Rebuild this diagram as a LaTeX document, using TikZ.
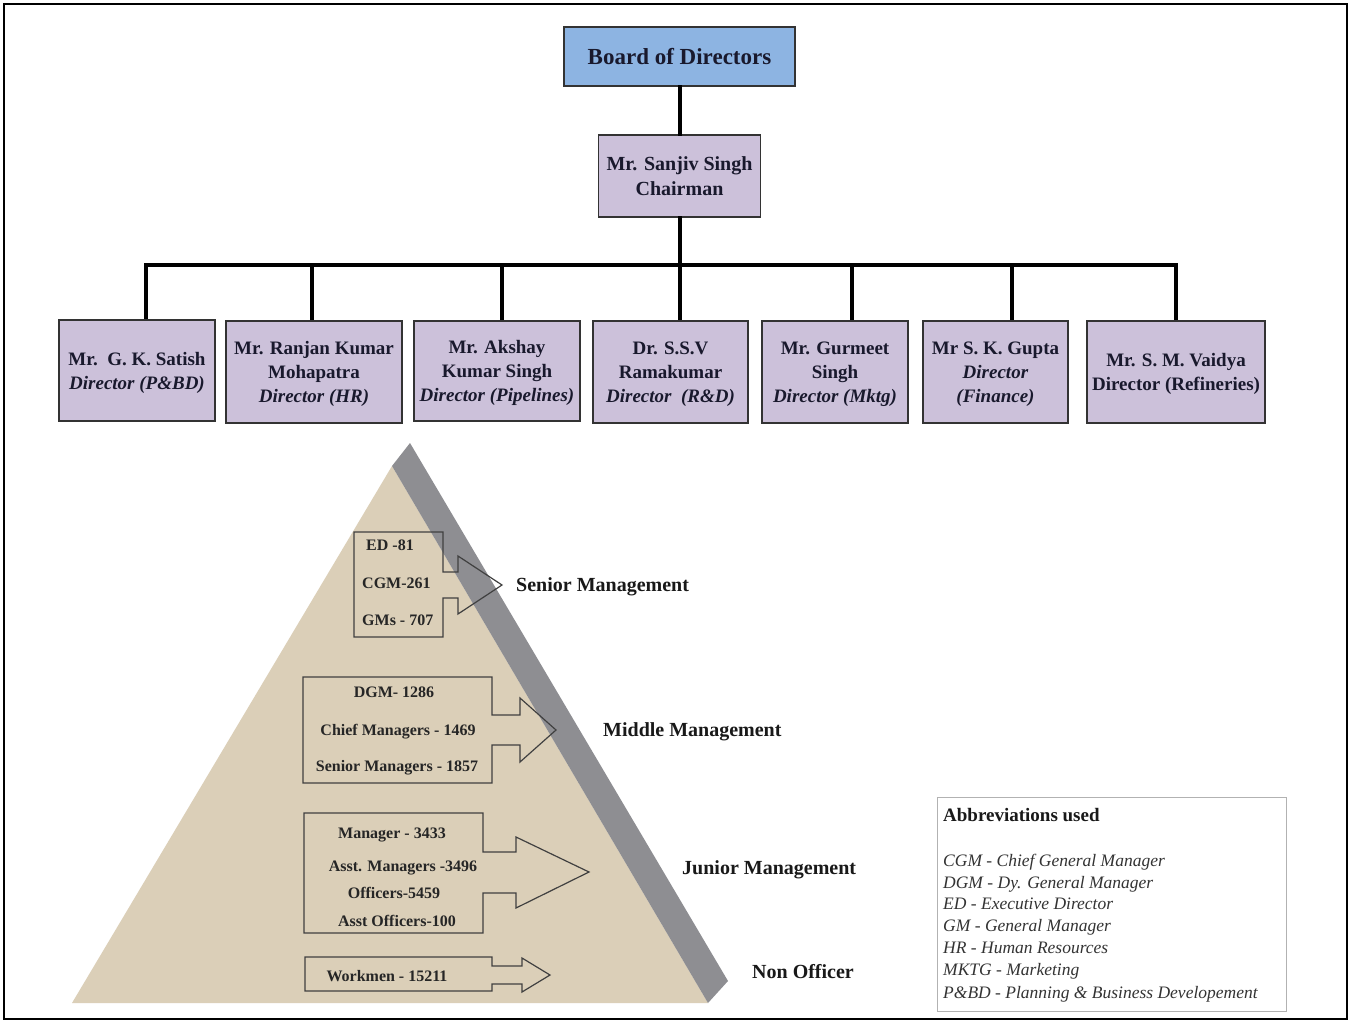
\documentclass[tikz,border=0pt]{standalone}
\usepackage{fontspec}
\setmainfont{Liberation Serif}
\definecolor{boardblue}{RGB}{141,180,226}
\definecolor{lav}{RGB}{204,193,218}
\definecolor{txt}{RGB}{25,25,45}
\definecolor{tanfill}{RGB}{219,207,184}
\definecolor{bandgray}{RGB}{142,142,146}
\begin{document}
\begin{tikzpicture}[x=1pt,y=-1pt,
  orgbox/.style={draw=black!80, line width=1.5pt, fill=lav, text=txt, align=center, inner sep=0pt, text depth=-1.5pt, font=\fontsize{19}{24}\selectfont\bfseries},
  wire/.style={line width=4pt, black, line cap=rect},
  lvl/.style={font=\fontsize{16}{19}\selectfont\bfseries, text=black!85, inner sep=0pt, text height=11pt, text depth=3.5pt},
  lvlname/.style={font=\fontsize{20}{23}\selectfont\bfseries, text=black!90, anchor=west, inner sep=0pt, text height=13pt, text depth=4pt},
  tier/.style={draw=black!75, line width=1.2pt, line join=miter},
  abbr/.style={font=\fontsize{17.5}{20}\selectfont\itshape, text=black!80, anchor=west, inner sep=0pt, text height=12pt, text depth=4pt},
]
\useasboundingbox (0,0) rectangle (1351,1024);
\fill[white] (0,0) rectangle (1351,1024);
\draw[line width=2pt] (4,4) rectangle (1347,1019);

% connector points
\coordinate (busL) at (146,265);
\coordinate (busR) at (1176,265);
\coordinate (busM) at (679.5,265);
\coordinate (t1) at (146,265);
\coordinate (t2) at (312,265);
\coordinate (t3) at (502,265);
\coordinate (t4) at (679.5,265);
\coordinate (t5) at (852,265);
\coordinate (t6) at (1012,265);
\coordinate (t7) at (1176,265);

% org boxes
\node[orgbox, fill=boardblue, minimum width=231pt, minimum height=59pt, text depth=0pt, font=\fontsize{23}{26}\selectfont\bfseries] (board) at (679.5,56.5) {Board of Directors};
\node[orgbox, minimum width=162pt, minimum height=82pt, font=\fontsize{20}{25}\selectfont\bfseries] (chair) at (679.5,176) {Mr. Sanjiv Singh\\Chairman};

\node[orgbox, minimum width=156pt, minimum height=101pt] (d1) at (137,370.5) {Mr.\ \ G. K. Satish\\\textit{Director (P\&BD)}};
\node[orgbox, minimum width=176pt, minimum height=102pt] (d2) at (314,372) {Mr. Ranjan Kumar\\Mohapatra\\\textit{Director (HR)}};
\node[orgbox, minimum width=166pt, minimum height=100pt] (d3) at (497,371) {Mr. Akshay\\Kumar Singh\\\textit{Director (Pipelines)}};
\node[orgbox, minimum width=155pt, minimum height=102pt] (d4) at (670.5,372) {Dr. S.S.V\\Ramakumar\\\textit{Director\ \ (R\&D)}};
\node[orgbox, minimum width=146pt, minimum height=102pt] (d5) at (835,372) {Mr. Gurmeet\\Singh\\\textit{Director (Mktg)}};
\node[orgbox, minimum width=145pt, minimum height=102pt] (d6) at (995.5,372) {Mr S. K. Gupta\\\textit{Director}\\\textit{(Finance)}};
\node[orgbox, minimum width=178pt, minimum height=102pt] (d7) at (1176,372) {Mr. S. M. Vaidya\\Director (Refineries)};

\draw[wire] (board.south) -- (chair.north);
\draw[wire] (chair.south) -- (busM);
\draw[wire] (busL) -- (busR);
\foreach \i in {1,...,7}{\draw[wire, line cap=butt] (t\i) -- (t\i |- d\i.north);}

% pyramid
\fill[tanfill] (72,1003) -- (392,466) -- (708,1003) -- cycle;
\fill[bandgray] (392,466) -- (410,443) -- (728,981) -- (708,1003) -- cycle;

% senior tier
\draw[tier] (443,572) -- (458,572) -- (458,556) -- (502,585) -- (458,614) -- (458,598) -- (443,598) -- (443,637) -- (354,637) -- (354,532) -- (443,532) -- cycle;
\node[lvl, anchor=west] (ed) at (366,547) {ED -81};
\node[lvl, anchor=west] (cgm) at (362,585) {CGM-261};
\node[lvl, anchor=west] (gms) at (362,622) {GMs - 707};
\node[lvlname] (senior) at (516,587) {Senior Management};

% middle tier
\draw[tier] (492,715) -- (520,715) -- (520,698) -- (556,730) -- (520,762) -- (520,745) -- (492,745) -- (492,783) -- (303,783) -- (303,677) -- (492,677) -- cycle;
\node[lvl] (dgm) at (394,694) {DGM- 1286};
\node[lvl] (chiefm) at (398,732) {Chief Managers - 1469};
\node[lvl] (seniorm) at (397,768) {Senior Managers - 1857};
\node[lvlname] (middle) at (603,732) {Middle Management};

% junior tier
\draw[tier] (483,852) -- (516,852) -- (516,837) -- (589,872) -- (516,908) -- (516,893) -- (483,893) -- (483,933) -- (304,933) -- (304,813) -- (483,813) -- cycle;
\node[lvl] (mgr) at (392,835) {Manager - 3433};
\node[lvl] (asstm) at (403,868) {Asst. Managers -3496};
\node[lvl] (off) at (394,895) {Officers-5459};
\node[lvl] (assto) at (397,923) {Asst Officers-100};
\node[lvlname] (junior) at (682,870) {Junior Management};

% workmen tier
\draw[tier] (492,966) -- (522,966) -- (522,958) -- (550,975) -- (522,992) -- (522,984) -- (492,984) -- (492,991) -- (305,991) -- (305,957) -- (492,957) -- cycle;
\node[lvl] (wk) at (387,978) {Workmen - 15211};
\node[lvlname] (nonoff) at (752,974) {Non Officer};

% abbreviations
\node[draw=black!30, line width=1pt, minimum width=349pt, minimum height=214pt, inner sep=0pt] (abbrbox) at (1111.5,904) {};
\node[font=\fontsize{19}{22}\selectfont\bfseries, anchor=west, inner sep=0pt, text height=13pt, text depth=4pt, text=black!90] (abbrtitle) at (943,817) {Abbreviations used};
\node[abbr] (a1) at (943,862) {CGM - Chief General Manager};
\node[abbr] (a2) at (943,884) {DGM - Dy. General Manager};
\node[abbr] (a3) at (943,905) {ED - Executive Director};
\node[abbr] (a4) at (943,927) {GM - General Manager};
\node[abbr] (a5) at (943,949) {HR - Human Resources};
\node[abbr] (a6) at (943,971) {MKTG - Marketing};
\node[abbr] (a7) at (943,994) {P\&BD - Planning \& Business Developement};
\end{tikzpicture}
\end{document}
